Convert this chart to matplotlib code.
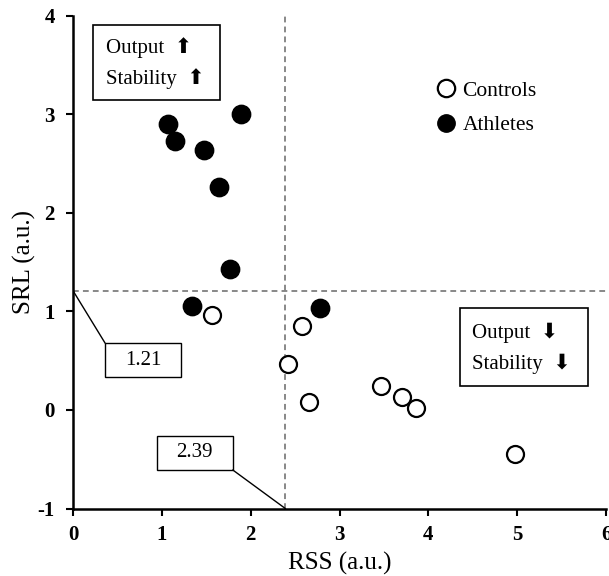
import matplotlib
matplotlib.use("Agg")
import matplotlib.pyplot as plt
from matplotlib.lines import Line2D

plt.rcParams['axes.unicode_minus'] = False

# Data
athletes_rss = [1.07, 1.15, 1.48, 1.89, 1.64, 1.77, 1.34, 2.78]
athletes_srl = [2.90, 2.73, 2.64, 3.00, 2.26, 1.43, 1.05, 1.03]
controls_rss = [1.57, 2.58, 2.42, 2.66, 3.47, 3.70, 3.86, 4.98]
controls_srl = [0.96, 0.85, 0.47, 0.08, 0.24, 0.13, 0.02, -0.45]
rss_cut = 2.39
srl_cut = 1.21
x_ticks = [0, 1, 2, 3, 4, 5, 6]
y_ticks = [-1, 0, 1, 2, 3, 4]

serif = ['Liberation Serif', 'DejaVu Serif']
sym = ['Liberation Serif', 'DejaVu Sans']

fig = plt.figure(figsize=(6.09, 5.76), dpi=100)
ax = fig.add_axes([73/609, 1-508.5/576, (606-73)/609, (508.5-15.7)/576])

ax.set_xlim(0, 6)
ax.set_ylim(-1, 4)

# threshold lines
ax.axvline(rss_cut, color='#7f7f7f', lw=1.3, ls=(0, (3.2, 2.3)), zorder=1)
ax.axhline(srl_cut, color='#7f7f7f', lw=1.3, ls=(0, (3.2, 2.3)), zorder=1)

# points
ax.scatter(controls_rss, controls_srl, s=150, facecolor='white', edgecolor='black',
           linewidth=1.6, zorder=3)
ax.scatter(athletes_rss, athletes_srl, s=175, facecolor='black', edgecolor='black',
           linewidth=1.0, zorder=3)

# spines / ticks
for s in ['top', 'right']:
    ax.spines[s].set_visible(False)
for s in ['left', 'bottom']:
    ax.spines[s].set_linewidth(1.8)
ax.set_xticks(x_ticks)
ax.set_yticks(y_ticks)
ax.tick_params(axis='both', direction='out', length=5, width=1.5)
ax.tick_params(axis='y', pad=8)
ax.tick_params(axis='x', pad=7)
for lab in ax.get_xticklabels() + ax.get_yticklabels():
    lab.set_fontfamily(serif)
    lab.set_fontweight('bold')
    lab.set_fontsize(15)

ax.set_xlabel('RSS (a.u.)', fontsize=18, family=serif, labelpad=5)
ax.set_ylabel('SRL (a.u.)', fontsize=18, family=serif, labelpad=1)

# Quadrant boxes
ax.add_patch(plt.Rectangle((0.23, 3.14), 1.42, 0.77, fill=False, lw=1.2, ec='black', zorder=2))
ax.text(0.37, 3.675, 'Output  ⬆', fontsize=15, family=sym, va='center', ha='left')
ax.text(0.37, 3.36, 'Stability  ⬆', fontsize=15, family=sym, va='center', ha='left')

ax.add_patch(plt.Rectangle((4.36, 0.24), 1.44, 0.79, fill=False, lw=1.2, ec='black', zorder=2))
ax.text(4.49, 0.78, 'Output  ⬇', fontsize=15, family=sym, va='center', ha='left')
ax.text(4.49, 0.47, 'Stability  ⬇', fontsize=15, family=sym, va='center', ha='left')

# value callouts
ax.add_patch(plt.Rectangle((0.36, 0.33), 0.86, 0.35, fill=False, lw=1.0, ec='black', zorder=2))
ax.text(0.79, 0.505, f'{srl_cut:.2f}', fontsize=15, family=serif, ha='center', va='center')
ax.plot([0, 0.36], [srl_cut, 0.68], color='black', lw=1.0, zorder=2)

ax.add_patch(plt.Rectangle((0.94, -0.61), 0.86, 0.35, fill=False, lw=1.0, ec='black', zorder=2))
ax.text(1.37, -0.435, f'{rss_cut:.2f}', fontsize=15, family=serif, ha='center', va='center')
ax.plot([1.80, rss_cut], [-0.61, -1], color='black', lw=1.0, zorder=2)

# legend
handles = [
    Line2D([], [], ls='none', marker='o', ms=12.5, mfc='white', mec='black', mew=1.6, label='Controls'),
    Line2D([], [], ls='none', marker='o', ms=12.5, mfc='black', mec='black', label='Athletes'),
]
leg = ax.legend(handles=handles, frameon=False, loc='upper left',
                bbox_to_anchor=(0.66, 0.886), prop={'family': serif, 'size': 15.5},
                handletextpad=0.15, labelspacing=0.68, borderaxespad=0, handlelength=1.2)

fig.savefig('out.png', dpi=100)
